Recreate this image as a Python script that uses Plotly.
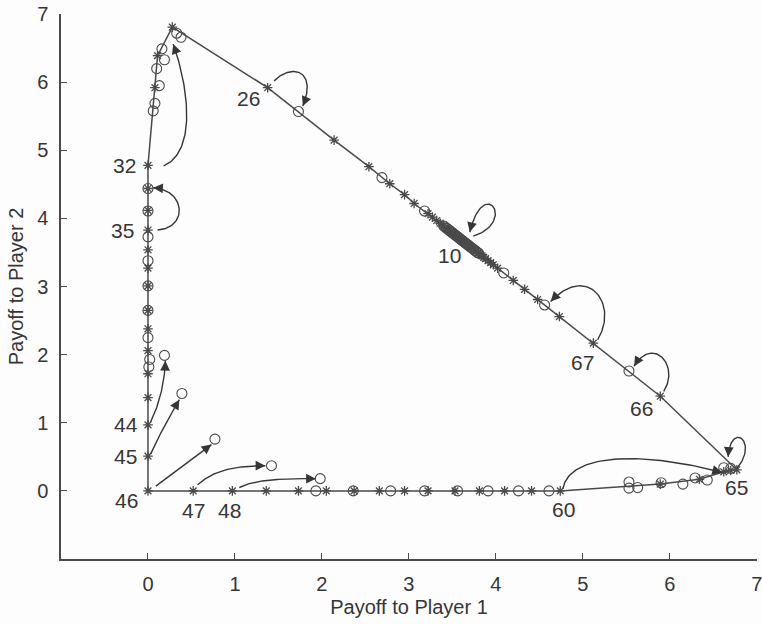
import numpy as np
import plotly.graph_objects as go

# ---- data -------------------------------------------------------------
# Mean payoffs of the population, one point per generation (asterisks, joined in order)
traj_x = [
    3.46, 3.52, 3.57, 3.61, 3.64, 3.67, 3.72, 3.77, 3.80,          # 1-9
    3.69,                                                          # 10
    3.63, 3.58, 3.53, 3.49, 3.44, 3.40, 3.36, 3.32, 3.27, 3.22,    # 11-20
    3.06, 2.95, 2.78, 2.54, 2.14,                                  # 21-25
    1.376,                                                         # 26
    0.28, 0.11, 0.08,
    0.0, 0.0, 0.0, 0.0, 0.0, 0.0, 0.0, 0.0, 0.0, 0.0, 0.0, 0.0,    # 32 ...
    0.0, 0.0, 0.0,                                                 # 44, 45, 46
    0.52, 0.97, 1.36, 1.73, 2.05, 2.37, 2.66, 2.95, 3.22, 3.53,
    3.81, 4.10, 4.41, 4.74,                                        # ... 60
    5.89, 6.34, 6.62, 6.70, 6.77,                                  # ... 65
    5.89, 5.12,                                                    # 66, 67
    4.73, 4.48, 4.33, 4.20, 4.02, 3.97, 3.94, 3.91, 3.88, 3.86, 3.84, 3.82,
]
traj_y = [
    3.83, 3.77, 3.72, 3.68, 3.65, 3.62, 3.57, 3.52, 3.49,
    3.60,
    3.66, 3.71, 3.76, 3.80, 3.85, 3.89, 3.93, 3.97, 4.02, 4.07,
    4.22, 4.35, 4.51, 4.76, 5.15,
    5.92,
    6.81, 6.39, 5.92,
    4.78, 4.44, 4.12, 3.83, 3.54, 3.27, 3.01, 2.65, 2.38, 2.06, 1.72, 1.37,
    0.97, 0.51, 0.0,
    0.0, 0.0, 0.0, 0.0, 0.0, 0.0, 0.0, 0.0, 0.0, 0.0,
    0.0, 0.0, 0.0, 0.0,
    0.10, 0.17, 0.28, 0.30, 0.31,
    1.39, 2.17,
    2.56, 2.81, 2.96, 3.09, 3.27, 3.32, 3.35, 3.38, 3.41, 3.43, 3.45, 3.47,
]

# Target payoffs of each generation (open circles)
circ_x = [
    0.33, 0.38, 0.16, 0.19, 0.10, 0.13, 0.08, 0.06,
    0.0, 0.0, 0.0, 0.0, 0.0, 0.0, 0.0, 0.02, 0.01,
    0.19, 0.39, 0.77, 1.42, 1.98,
    1.93, 2.36, 2.79, 3.18, 3.56, 3.91, 4.26, 4.61,
    5.53, 5.53, 5.63, 5.90, 6.15, 6.29, 6.43, 6.62, 6.70,
    1.73, 2.69, 3.18, 4.09, 4.56, 5.53,
    3.40, 3.41, 3.43, 3.44, 3.46, 3.47, 3.49, 3.50, 3.52, 3.53,
    3.55, 3.56, 3.58, 3.59, 3.61, 3.62, 3.64, 3.65, 3.67, 3.68,
    3.70, 3.71, 3.73, 3.74, 3.76, 3.77, 3.79, 3.80,
]
circ_y = [
    6.72, 6.66, 6.49, 6.33, 6.20, 5.95, 5.69, 5.58,
    4.44, 4.11, 3.73, 3.38, 3.01, 2.65, 2.25, 1.93, 1.82,
    1.99, 1.43, 0.76, 0.37, 0.18,
    0.0, 0.0, 0.0, 0.0, 0.0, 0.0, 0.0, 0.0,
    0.13, 0.04, 0.05, 0.12, 0.10, 0.19, 0.16, 0.34, 0.33,
    5.57, 4.60, 4.11, 3.20, 2.73, 1.76,
    3.89, 3.88, 3.86, 3.85, 3.83, 3.82, 3.80, 3.79, 3.77, 3.76,
    3.74, 3.73, 3.71, 3.70, 3.68, 3.67, 3.65, 3.64, 3.62, 3.61,
    3.59, 3.58, 3.56, 3.55, 3.53, 3.52, 3.50, 3.49,
]

# Generation numbers written next to the trajectory
gen_text = ["10", "26", "32", "35", "44", "45", "46", "47", "48", "60", "65", "66", "67"]
gen_index = [9, 25, 29, 32, 41, 42, 43, 44, 45, 57, 62, 63, 64]

# ---- styling / placement ----------------------------------------------
INK = "#363636"
LINE = "#4a4a4a"
FONT = "Liberation Sans, Arial, Helvetica, sans-serif"
X_RANGE = [-1, 7.002]
Y_RANGE = [-1, 7.002]
MARGIN = dict(l=61, r=5, t=14, b=65)
PLOT_W = 762 - MARGIN["l"] - MARGIN["r"]
PLOT_H = 624 - MARGIN["t"] - MARGIN["b"]
PX_X = PLOT_W / (X_RANGE[1] - X_RANGE[0])
PX_Y = PLOT_H / (Y_RANGE[1] - Y_RANGE[0])

# label offsets (pixels) relative to the labelled point
label_shift = {
    "10": (-19, -10), "26": (-19, -11), "32": (-23, 0), "35": (-25, 0),
    "44": (-22, 0), "45": (-22, 0), "46": (-21, -10), "47": (0, -20),
    "48": (-3, -20), "60": (3, -19), "65": (0, -18), "66": (-19, -12),
    "67": (-11, -19),
}

# curved arrows from a generation to its target: start, two control points, tip
arrows = [
    [(1.45, 6.02), (1.65, 6.28), (1.95, 6.18), (1.78, 5.65)],   # 26
    [(0.18, 4.77), (0.58, 5.00), (0.45, 6.00), (0.29, 6.56)],   # 32
    [(0.11, 3.83), (0.46, 3.86), (0.44, 4.42), (0.06, 4.45)],   # 35
    [(0.03, 1.01), (0.12, 1.25), (0.19, 1.55), (0.20, 1.91)],   # 44
    [(0.03, 0.54), (0.12, 0.80), (0.25, 1.10), (0.36, 1.34)],   # 45
    [(0.09, 0.07), (0.30, 0.27), (0.52, 0.48), (0.73, 0.68)],   # 46
    [(0.57, 0.09), (0.75, 0.30), (1.00, 0.37), (1.35, 0.37)],   # 47
    [(1.05, 0.05), (1.25, 0.17), (1.50, 0.18), (1.93, 0.18)],   # 48
    [(4.77, 0.03), (4.85, 0.60), (5.80, 0.55), (6.60, 0.27)],   # 60
    [(6.77, 0.33), (7.03, 0.72), (6.70, 1.04), (6.67, 0.50)],   # 65
    [(5.93, 1.46), (6.12, 1.85), (5.80, 2.28), (5.59, 1.83)],   # 66
    [(5.17, 2.22), (5.42, 2.75), (5.05, 3.35), (4.63, 2.78)],   # 67
    [(3.74, 3.74), (4.25, 3.95), (3.86, 4.65), (3.70, 3.80)],   # 10
]


def bezier(p0, p1, p2, p3, n=60):
    t = np.linspace(0.0, 1.0, n)[:, None]
    pts = ((1 - t) ** 3) * np.array(p0) + 3 * ((1 - t) ** 2) * t * np.array(p1) \
        + 3 * (1 - t) * (t ** 2) * np.array(p2) + (t ** 3) * np.array(p3)
    return pts[:, 0], pts[:, 1]


fig = go.Figure()

# joined trajectory
fig.add_trace(go.Scatter(
    x=traj_x, y=traj_y, mode="lines+markers",
    line=dict(color=LINE, width=1.5),
    marker=dict(symbol="asterisk-open", size=8, line=dict(color=LINE, width=1.3)),
    hoverinfo="skip", showlegend=False,
))

# targets
fig.add_trace(go.Scatter(
    x=circ_x, y=circ_y, mode="markers",
    marker=dict(symbol="circle-open", size=10, color=LINE, line=dict(color=LINE, width=1.1)),
    hoverinfo="skip", showlegend=False,
))

annotations = []
for p0, p1, p2, p3 in arrows:
    bx, by = bezier(p0, p1, p2, p3)
    fig.add_trace(go.Scatter(
        x=bx, y=by, mode="lines", line=dict(color=INK, width=1.4),
        hoverinfo="skip", showlegend=False,
    ))
    # short arrow along the end tangent, in screen pixels
    dx = (p3[0] - p2[0]) * PX_X
    dy = (p3[1] - p2[1]) * PX_Y
    norm = np.hypot(dx, dy)
    back = 6.0
    tail_x = p3[0] - back * dx / norm / PX_X
    tail_y = p3[1] - back * dy / norm / PX_Y
    annotations.append(dict(
        x=p3[0], y=p3[1], ax=tail_x, ay=tail_y, xref="x", yref="y",
        axref="x", ayref="y", text="", showarrow=True,
        arrowhead=2, arrowsize=1.5, arrowwidth=1.3, arrowcolor=INK,
    ))

for txt, idx in zip(gen_text, gen_index):
    sx, sy = label_shift[txt]
    annotations.append(dict(
        x=traj_x[idx], y=traj_y[idx], xref="x", yref="y", text=txt,
        showarrow=False, xshift=sx, yshift=sy,
        font=dict(family=FONT, size=21, color=INK),
    ))

axis_common = dict(
    showgrid=False, zeroline=False, showline=True, linecolor=LINE, linewidth=1.5,
    ticks="inside", ticklen=6, tickwidth=1.2, tickcolor=LINE,
    tickfont=dict(family=FONT, size=20, color=INK), mirror=False,
    ticklabeloverflow="allow", automargin=False,
)

fig.update_layout(
    width=762, height=624, margin=MARGIN,
    paper_bgcolor="#fdfdfd", plot_bgcolor="#fdfdfd",
    xaxis=dict(range=X_RANGE, tickvals=list(range(0, 8)), ticklabelstandoff=6,
               title=dict(text="Payoff to Player 1", font=dict(family=FONT, size=20, color=INK),
                          standoff=6),
               **axis_common),
    yaxis=dict(range=Y_RANGE, tickvals=list(range(0, 8)), ticklabelstandoff=7,
               title=dict(text="Payoff to Player 2", font=dict(family=FONT, size=20, color=INK),
                          standoff=8),
               **axis_common),
    annotations=annotations,
)

fig.write_html("out.html")
